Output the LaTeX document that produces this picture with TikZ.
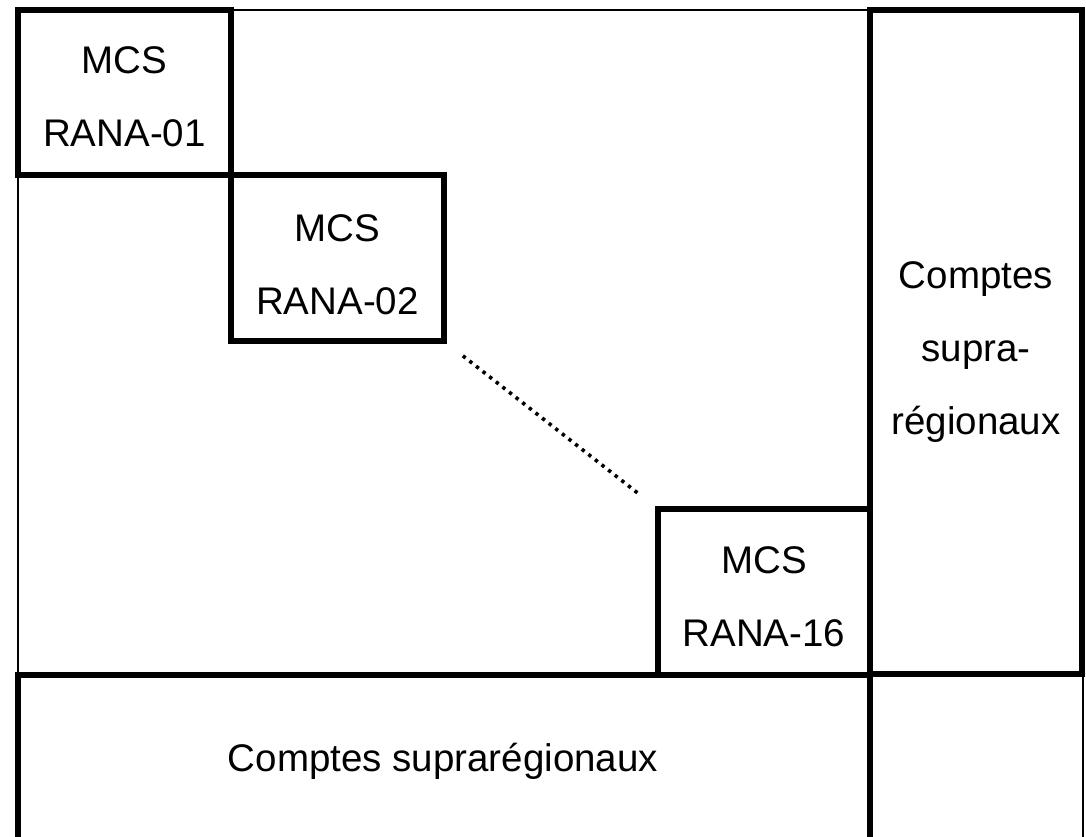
\documentclass[tikz,border=0pt]{standalone}
\usepackage{fontspec}
\setmainfont{Liberation Sans}
\usetikzlibrary{calc}
\begin{document}
\begin{tikzpicture}[x=1pt,y=-1pt,
  thickbox/.style={draw,line width=6pt,inner sep=0pt,outer sep=0pt,rectangle},
  thinline/.style={line width=1.5pt},
  lbl/.style={font=\fontsize{38.5}{73}\selectfont,align=center,inner sep=0pt}]
\useasboundingbox (0,0) rectangle (1086,836);
\clip (0,0) rectangle (1086,836);
% thin outer frame
\draw[thinline] (18,10) rectangle (1083,860);
% thick boxes
\node[thickbox,minimum width=213pt,minimum height=165pt] (b1) at (124.5,92.5) {};
\node[thickbox,minimum width=213pt,minimum height=166pt] (b2) at (337.5,258) {};
\node[thickbox,minimum width=212pt,minimum height=166pt] (b16) at (764,592) {};
\node[thickbox,minimum width=212pt,minimum height=664pt] (sr) at (976,342) {};
\node[thickbox,minimum width=852pt,minimum height=200pt] (bot) at (444,775) {};
% texts
\node[lbl] (t1) at ($(b1.center)+(0,4)$) {MCS\\RANA-01};
\node[lbl] (t2) at ($(b2.center)+(0,7)$) {MCS\\RANA-02};
\node[lbl] (t16) at ($(b16.center)+(0,5)$) {MCS\\RANA-16};
\node[lbl] (tsr) at ($(sr.center)+(0,10)$) {Comptes\\supra-\\régionaux};
\node[lbl] (tbot) at (443,761) {Comptes suprarégionaux};
% dotted connector
\draw[line width=3.6pt,dash pattern=on 3.4pt off 5pt,shorten <=24pt,shorten >=26pt] (b2.south east) -- (b16.north west);
\end{tikzpicture}
\end{document}
